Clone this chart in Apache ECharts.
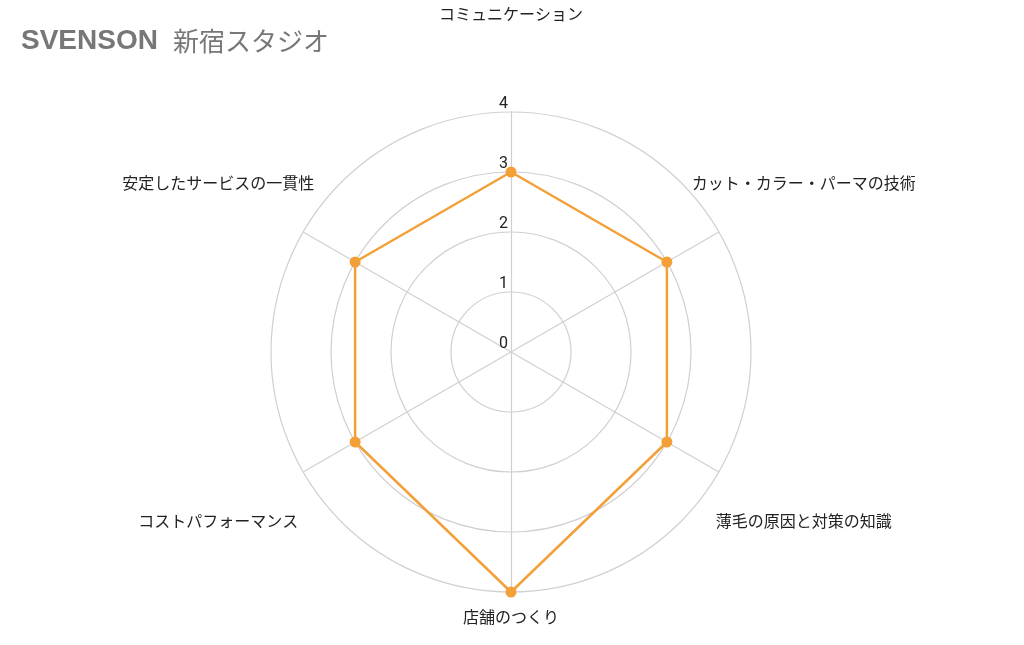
<!DOCTYPE html>
<html><head><meta charset="utf-8">
<script src="https://cdn.jsdelivr.net/npm/echarts@6/dist/echarts.min.js"></script>
<style>html,body{margin:0;padding:0;background:#fff}#c{width:1024px;height:645px}</style>
</head><body><div id="c"></div>
<script>
// clockwise order starting at top (ECharts radar runs counter-clockwise, so listed accordingly)
const categories = ['コミュニケーション','安定したサービスの一貫性','コストパフォーマンス','店舗のつくり','薄毛の原因と対策の知識','カット・カラー・パーマの技術'];
const values = [3, 3, 3, 4, 3, 3];
const maxValue = 4;
const nameGaps = [98, 98, 98, 25, 98, 98];

const chart = echarts.init(document.getElementById('c'));
chart.setOption({
  animation: false,
  title: {
    text: '{a|SVENSON}{b|新宿スタジオ}',
    left: 16, top: 22,
    textStyle: {
      rich: {
        a: {fontFamily: 'Liberation Sans', fontWeight: 'bold', fontSize: 28, color: '#777'},
        b: {fontFamily: 'Noto Sans CJK JP', fontWeight: 'normal', fontSize: 26, color: '#777', padding: [0, 0, 0, 15]}
      }
    }
  },
  radar: {
    center: [511, 352],
    radius: 240,
    shape: 'circle',
    splitNumber: 4,
    startAngle: 90,
    indicator: categories.map((n, i) => ({
      name: n, min: 0, max: maxValue, nameGap: nameGaps[i],
      axisLabel: {show: i === 0}
    })),
    axisName: {
      color: '#222', fontSize: 16, fontFamily: 'Noto Sans CJK JP',
      align: 'center', verticalAlign: 'middle'
    },
    axisLabel: {show: false, color: '#222', fontSize: 16, fontFamily: 'Roboto', margin: 3, verticalAlign: 'bottom', lineHeight: 16},
    splitLine: {lineStyle: {color: '#d0d0d0', width: 1.2}},
    splitArea: {show: false},
    axisLine: {lineStyle: {color: '#d0d0d0', width: 1.2}}
  },
  series: [{
    type: 'radar',
    symbol: 'circle',
    symbolSize: 11,
    lineStyle: {color: '#f3a038', width: 2.5},
    itemStyle: {color: '#f3a038'},
    data: [{value: values}]
  }]
});
</script></body></html>
